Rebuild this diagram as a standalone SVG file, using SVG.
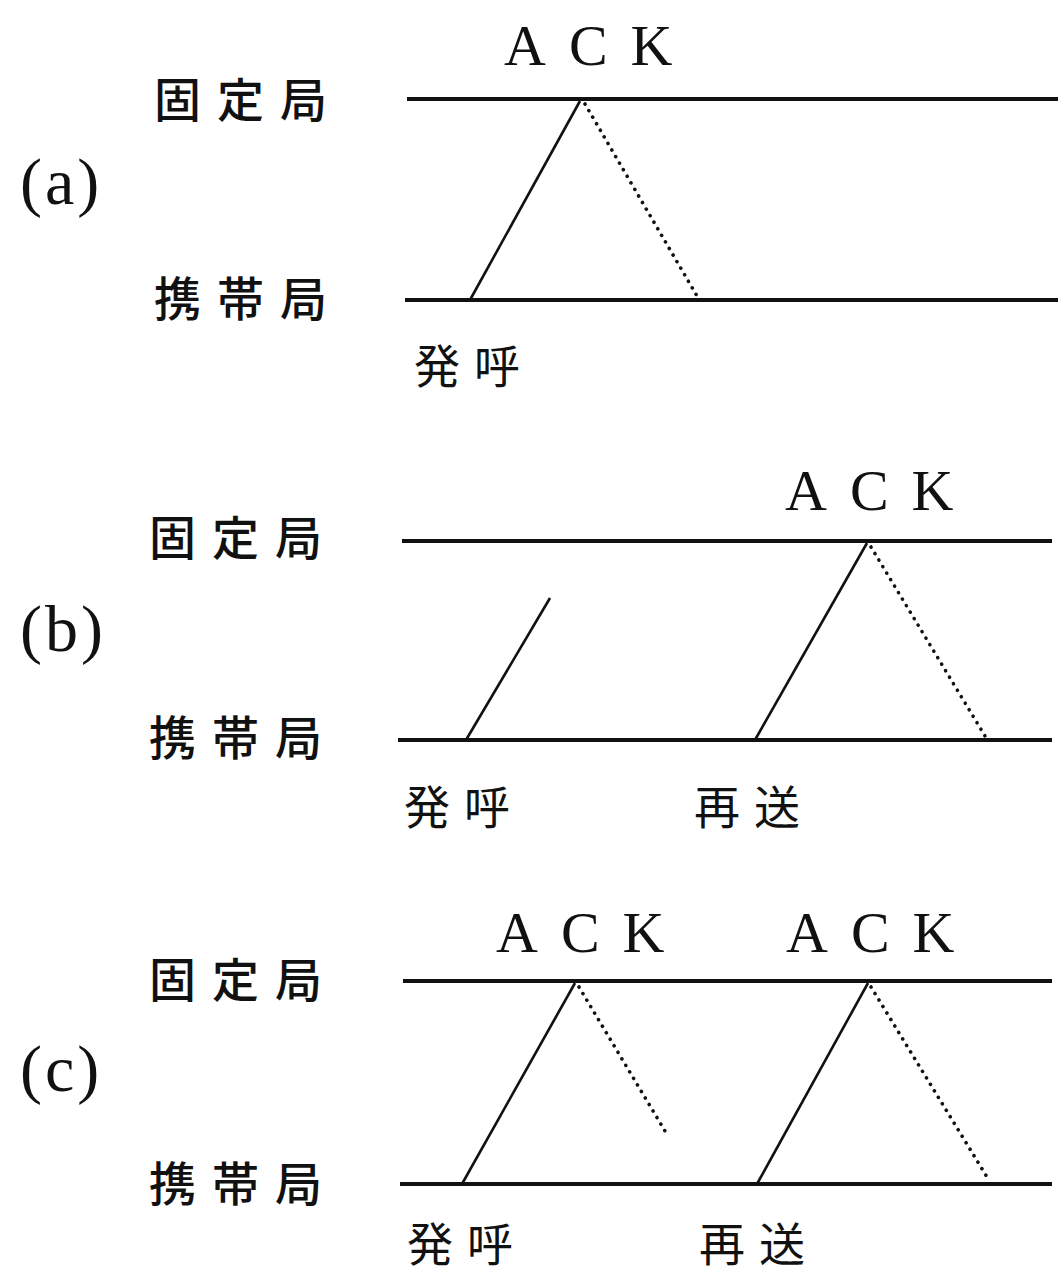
<svg xmlns="http://www.w3.org/2000/svg" width="1062" height="1275" viewBox="0 0 1062 1275">
<style>
.bg{fill:#ffffff}
.lane{stroke:#111;stroke-width:4;fill:none}
.msg{stroke:#111;stroke-width:2.6;fill:none}
.ack{stroke:#111;stroke-width:3.6;fill:none;stroke-dasharray:0.1 7.5;stroke-linecap:round}
.st{font-family:"Noto Sans CJK JP","Noto Sans CJK SC",sans-serif;font-size:47px;font-weight:500;fill:#111;letter-spacing:16px}
.ev{font-family:"Noto Sans CJK JP","Noto Sans CJK SC",sans-serif;font-size:46px;font-weight:400;fill:#111;letter-spacing:14px}
.ak{font-family:"Liberation Serif",serif;font-size:58px;fill:#111;letter-spacing:23px}
.pl{font-family:"Liberation Serif",serif;font-size:66px;fill:#111;letter-spacing:3px}
</style>
<rect class="bg" x="0" y="0" width="1062" height="1275"/>

<g id="panel-a">
  <g id="a-label"><text class="pl" x="20" y="204">(a)</text></g>
  <g id="a-fixed"><text class="st" x="154" y="117">固定局</text></g>
  <g id="a-mobile"><text class="st" x="154" y="316">携帯局</text></g>
  <g id="a-ack"><text class="ak" x="504" y="65">ACK</text></g>
  <g id="a-call"><text class="ev" x="414" y="383">発呼</text></g>
</g>

<g id="panel-b">
  <g id="b-label"><text class="pl" x="20" y="651">(b)</text></g>
  <g id="b-fixed"><text class="st" x="149" y="555">固定局</text></g>
  <g id="b-mobile"><text class="st" x="149" y="755">携帯局</text></g>
  <g id="b-ack"><text class="ak" x="785" y="510">ACK</text></g>
  <g id="b-call"><text class="ev" x="404" y="824">発呼</text></g>
  <g id="b-resend"><text class="ev" x="694" y="824">再送</text></g>
</g>

<g id="panel-c">
  <g id="c-label"><text class="pl" x="20" y="1091">(c)</text></g>
  <g id="c-fixed"><text class="st" x="149" y="997">固定局</text></g>
  <g id="c-mobile"><text class="st" x="149" y="1201">携帯局</text></g>
  <g id="c-ack1"><text class="ak" x="496" y="952">ACK</text></g>
  <g id="c-ack2"><text class="ak" x="786" y="952">ACK</text></g>
  <g id="c-call"><text class="ev" x="407" y="1261">発呼</text></g>
  <g id="c-resend"><text class="ev" x="699" y="1261">再送</text></g>
</g>

<g id="connectors">
  <line class="lane" x1="407" y1="99" x2="1058" y2="99"/>
  <line class="lane" x1="405" y1="300" x2="1058" y2="300"/>
  <line class="msg" x1="470" y1="300" x2="580" y2="101"/>
  <line class="ack" x1="585" y1="104" x2="697" y2="296"/>

  <line class="lane" x1="402" y1="541" x2="1052" y2="541"/>
  <line class="lane" x1="398" y1="740" x2="1052" y2="740"/>
  <line class="msg" x1="466" y1="740" x2="550" y2="598"/>
  <line class="msg" x1="755" y1="740" x2="867" y2="543"/>
  <line class="ack" x1="871" y1="547" x2="985" y2="736"/>

  <line class="lane" x1="403" y1="981" x2="1052" y2="981"/>
  <line class="lane" x1="400" y1="1184" x2="1052" y2="1184"/>
  <line class="msg" x1="462" y1="1184" x2="575" y2="983"/>
  <line class="ack" x1="579" y1="987" x2="665" y2="1131"/>
  <line class="msg" x1="757" y1="1184" x2="868" y2="983"/>
  <line class="ack" x1="871" y1="987" x2="987" y2="1177"/>
</g>
</svg>
